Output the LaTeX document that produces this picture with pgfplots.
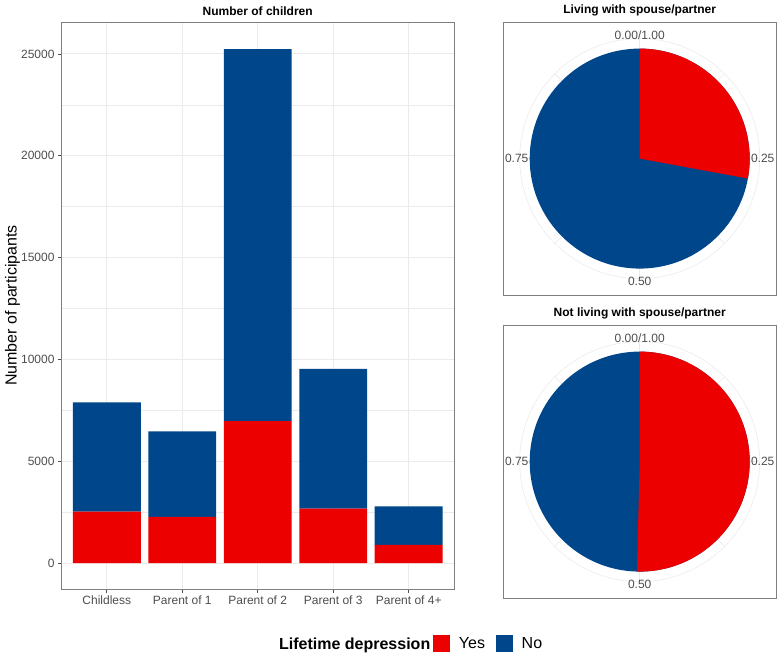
\documentclass[border=0pt]{standalone}
\usepackage{fontspec}
\setmainfont{Liberation Sans}
\usepackage{pgfplots}
\usepackage{pgfplotstable}
\pgfplotsset{compat=1.18}

\definecolor{lred}{HTML}{ED0000}
\definecolor{lblue}{HTML}{00468B}
\definecolor{gridc}{HTML}{EBEBEB}
\definecolor{tickc}{HTML}{4D4D4D}
\definecolor{framec}{HTML}{7F7F7F}

% participants by number of children, split by lifetime depression
\pgfplotstableread{
x yes no
1 2530 5360
2 2280 4190
3 6980 18250
4 2675 6860
5 900 1890
}\bartab

% share with lifetime depression, by living arrangement
\pgfplotstableread{
panel yes
1 0.279
2 0.504
}\pietab

\pgfplotsset{
  panel/.style={
    scale only axis,
    axis line style={framec, line width=0.75pt},
    tick label style={font=\fontsize{12}{14}\selectfont, text=tickc},
    title style={font=\bfseries\fontsize{12}{14}\selectfont, yshift=-3pt},
  },
  pie/.style={
    panel, anchor=south west, x=110pt, y=110pt,
    xmin=-1.24, xmax=1.24, ymin=-1.24, ymax=1.24,
    ticks=none, clip=false,
  },
}

\begin{document}
\begin{tikzpicture}
\useasboundingbox (0pt,0pt) rectangle (777pt,657pt);

\begin{axis}[panel, at={(61.5pt,68pt)}, anchor=south west,
  width=392.5pt, height=567pt,
  ybar stacked, bar width=0.9,
  xmin=0.4, xmax=5.6, ymin=-1265, ymax=26565,
  xtick={1,...,5},
  xticklabels={Childless, Parent of 1, Parent of 2, Parent of 3, Parent of 4+},
  ytick={0,5000,...,25000}, minor ytick={2500,7500,...,22500},
  grid=both,
  major grid style={gridc, line width=0.8pt},
  minor grid style={gridc, line width=0.5pt},
  tick pos=left, tick align=outside,
  major tick length=3.5pt, minor tick length=0pt,
  tick style={tickc, line width=0.6pt},
  scaled y ticks=false,
  /pgf/number format/assume math mode=true,
  /pgf/number format/1000 sep={},
  title={Number of children},
  ylabel={Number of participants},
  ylabel style={font=\fontsize{16}{19}\selectfont,
    at={(axis description cs:-0.1248,0.5)}, anchor=center},
  legend columns=-1,
  legend image code/.code={\fill[#1] (0pt,-8.3pt) rectangle (16.7pt,8.3pt);},
  legend style={draw=none, fill=none, inner sep=0pt,
    at={(0.9465,-0.0965)}, anchor=west,
    font=\fontsize{16}{19}\selectfont,
    nodes={inner xsep=0pt},
    /tikz/every odd column/.append style={column sep=9pt},
    /tikz/every even column/.append style={column sep=11pt}},
]
\addplot[fill=lred, draw=none] table[x=x, y=yes] {\bartab};
\addlegendentry{Yes}
\addplot[fill=lblue, draw=none] table[x=x, y=no] {\bartab};
\addlegendentry{No}
\end{axis}

\node[anchor=base east, inner sep=0pt, font=\bfseries\fontsize{16}{19}\selectfont]
  at (430.5pt,8pt) {Lifetime depression};

% living with spouse/partner
\pgfplotstablegetelem{0}{yes}\of\pietab
\let\fyes\pgfplotsretval
\begin{axis}[pie, at={(503.3pt,362pt)}, title={Living with spouse/partner}]
\draw[gridc, line width=0.6pt] (axis cs:0,0) circle[radius=120pt];
\pgfplotsinvokeforeach{0,45,...,315}{
  \draw[gridc, line width=0.6pt] (axis cs:0,0) -- ++(#1:120pt);
}
\fill[lblue] (axis cs:0,0) circle[radius=110pt];
\fill[lred] (axis cs:0,0) -- (axis cs:0,1)
  arc[start angle=90, delta angle={-360*\fyes}, radius=110pt] -- cycle;
\node[text=tickc, font=\fontsize{12}{14}\selectfont] at (axis cs:0,1.118) {0.00/1.00};
\node[text=tickc, font=\fontsize{12}{14}\selectfont] at (axis cs:1.118,0) {0.25};
\node[text=tickc, font=\fontsize{12}{14}\selectfont] at (axis cs:0,-1.118) {0.50};
\node[text=tickc, font=\fontsize{12}{14}\selectfont] at (axis cs:-1.118,0) {0.75};
\end{axis}

% not living with spouse/partner
\pgfplotstablegetelem{1}{yes}\of\pietab
\let\fyes\pgfplotsretval
\begin{axis}[pie, at={(503.3pt,59pt)}, title={Not living with spouse/partner}]
\draw[gridc, line width=0.6pt] (axis cs:0,0) circle[radius=120pt];
\pgfplotsinvokeforeach{0,45,...,315}{
  \draw[gridc, line width=0.6pt] (axis cs:0,0) -- ++(#1:120pt);
}
\fill[lblue] (axis cs:0,0) circle[radius=110pt];
\fill[lred] (axis cs:0,0) -- (axis cs:0,1)
  arc[start angle=90, delta angle={-360*\fyes}, radius=110pt] -- cycle;
\node[text=tickc, font=\fontsize{12}{14}\selectfont] at (axis cs:0,1.118) {0.00/1.00};
\node[text=tickc, font=\fontsize{12}{14}\selectfont] at (axis cs:1.118,0) {0.25};
\node[text=tickc, font=\fontsize{12}{14}\selectfont] at (axis cs:0,-1.118) {0.50};
\node[text=tickc, font=\fontsize{12}{14}\selectfont] at (axis cs:-1.118,0) {0.75};
\end{axis}
\end{tikzpicture}
\end{document}
